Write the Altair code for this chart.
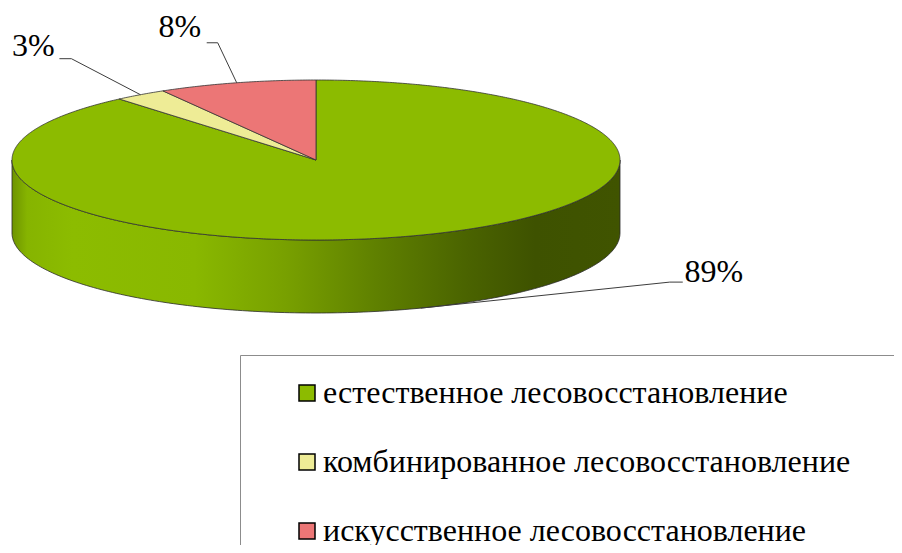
import numpy as np
import pandas as pd
import altair as alt

# ---------------- data ----------------
categories = [
    "естественное лесовосстановление",
    "комбинированное лесовосстановление",
    "искусственное лесовосстановление",
]
shares = [88.8, 2.8, 8.4]
slice_colors = ["#8CBB00", "#EEEC96", "#EC7676"]

# ---------------- layout (page pixels) ----------------
CX, CY = 316, 160      # centre of the top ellipse
RX, RY = 304, 80       # ellipse radii
DEPTH = 73             # thickness of the disc
FONT = "Liberation Serif, Times New Roman, serif"
# leader-line elbow / end and label centre, relative to the slice anchor
label_offsets = [
    {"elbow": (249, -26), "end": (262, -26), "text": (293, -36)},
    {"elbow": (-69, -36), "end": (-81, -36), "text": (-107, -49)},
    {"elbow": (-19, -40), "end": (-30, -40), "text": (-57, -56)},
]

total = float(sum(shares))

# top face: one polygon per slice, clockwise from 12 o'clock
top_rows, lead_rows, text_rows = [], [], []
start = 90.0
for i, (cat, v) in enumerate(zip(categories, shares)):
    sweep = 360.0 * v / total
    stop = start - sweep
    n = max(10, int(sweep * 2))
    ts = np.radians(np.linspace(start, stop, n))
    pts = [(CX, CY)] + [(CX + RX * np.cos(t), CY - RY * np.sin(t)) for t in ts] + [(CX, CY)]
    for k, (x, y) in enumerate(pts):
        top_rows.append({"category": cat, "x": x, "y": y, "order": k})
    tm = np.radians((start + stop) / 2.0)
    ax = CX + RX * np.cos(tm)
    ay = CY - RY * np.sin(tm)
    if np.sin(tm) < 0:  # front half -> anchor on the bottom rim of the side
        ay += DEPTH
    off = label_offsets[i]
    chain = [(ax, ay),
             (ax + off["elbow"][0], ay + off["elbow"][1]),
             (ax + off["end"][0], ay + off["end"][1])]
    for k, (x, y) in enumerate(chain):
        lead_rows.append({"category": cat, "x": x, "y": y, "order": k})
    text_rows.append({"category": cat,
                      "x": ax + off["text"][0], "y": ay + off["text"][1],
                      "label": f"{round(v)}%"})
    start = stop

top_df = pd.DataFrame(top_rows)
lead_df = pd.DataFrame(lead_rows)
text_df = pd.DataFrame(text_rows)

# visible side wall (front half of the disc)
ts = np.radians(np.linspace(180, 360, 181))
side_df = pd.DataFrame({
    "x": CX + RX * np.cos(ts),
    "y": CY - RY * np.sin(ts),
})
side_df["y2"] = side_df["y"] + DEPTH

W, H = 886, 537
xs = alt.Scale(domain=[8, 8 + W], nice=False, zero=False)
ys = alt.Scale(domain=[8, 8 + H], nice=False, zero=False, reverse=True)

side_gradient = {
    "gradient": "linear", "x1": 0, "x2": 1, "y1": 0, "y2": 0,
    "stops": [
        {"offset": 0.0, "color": "#6E9400"},
        {"offset": 0.025, "color": "#86B400"},
        {"offset": 0.1, "color": "#8CBC00"},
        {"offset": 0.3, "color": "#89B800"},
        {"offset": 0.45, "color": "#78A000"},
        {"offset": 0.6, "color": "#5F8000"},
        {"offset": 0.75, "color": "#4A6300"},
        {"offset": 0.86, "color": "#3E5200"},
        {"offset": 1.0, "color": "#405400"},
    ],
}

side = alt.Chart(side_df).mark_area(
    fill=side_gradient, stroke="#2a2a2a", strokeWidth=0.8
).encode(
    x=alt.X("x:Q", scale=xs, axis=None),
    y=alt.Y("y:Q", scale=ys, axis=None),
    y2="y2:Q",
)

top = alt.Chart(top_df).mark_line(
    stroke="#333333", strokeWidth=0.8, strokeJoin="miter"
).encode(
    x=alt.X("x:Q", scale=xs, axis=None),
    y=alt.Y("y:Q", scale=ys, axis=None),
    order="order:Q",
    fill=alt.Fill(
        "category:N",
        scale=alt.Scale(domain=categories, range=slice_colors),
        sort=categories,
        legend=alt.Legend(
            title="\u00a0", titleOrient="right", titlePadding=60,
            titleFontSize=10,
            orient="none", legendX=232, legendY=347,
            direction="vertical",
            symbolType="square", symbolSize=256,
            symbolStrokeColor="black", symbolStrokeWidth=1.5,
            symbolOffset=29,
            labelFont=FONT, labelFontSize=32, labelColor="black",
            labelLimit=1000, labelOffset=0,
            rowPadding=37, padding=22,
            strokeColor="#8c8c8c", fillColor="white",
        ),
    ),
)

leaders = alt.Chart(lead_df).mark_line(
    color="#3c3c3c", strokeWidth=1
).encode(
    x=alt.X("x:Q", scale=xs, axis=None),
    y=alt.Y("y:Q", scale=ys, axis=None),
    order="order:Q",
    detail="category:N",
)

labels = alt.Chart(text_df).mark_text(
    font=FONT, fontSize=32, color="black", align="center", baseline="middle"
).encode(
    x=alt.X("x:Q", scale=xs, axis=None),
    y=alt.Y("y:Q", scale=ys, axis=None),
    text="label:N",
)

chart = alt.layer(side, top, leaders, labels).properties(
    width=W, height=H, padding=0,
    autosize=alt.AutoSizeParams(type="none"),
).configure_view(stroke=None)

chart.save("out.html", embed_options={"renderer": "svg", "actions": False})
